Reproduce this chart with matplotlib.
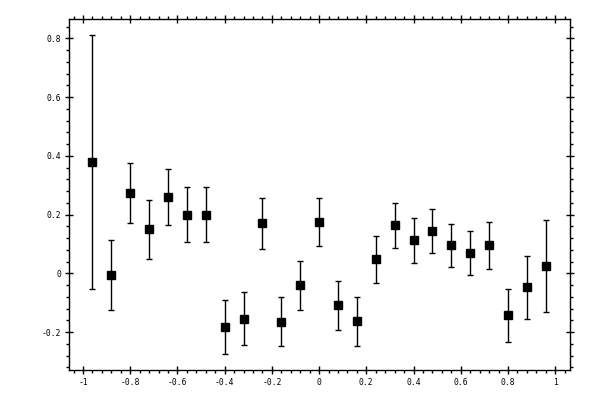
import numpy as np
import matplotlib
matplotlib.use("Agg")
import matplotlib.pyplot as plt
from matplotlib.ticker import MultipleLocator, FuncFormatter

plt.rcParams['axes.unicode_minus'] = False
plt.rcParams['font.family'] = 'DejaVu Sans Mono'

x = [-0.96, -0.88, -0.80, -0.72, -0.64, -0.56, -0.48, -0.40, -0.32, -0.24,
     -0.16, -0.08, 0.00, 0.08, 0.16, 0.24, 0.32, 0.40, 0.48, 0.56,
     0.64, 0.72, 0.80, 0.88, 0.96]
y = [0.378, -0.006, 0.272, 0.150, 0.259, 0.200, 0.200, -0.183, -0.155, 0.170,
     -0.165, -0.041, 0.174, -0.109, -0.163, 0.048, 0.163, 0.112, 0.143, 0.095,
     0.068, 0.095, -0.143, -0.048, 0.024]
yerr = [0.432, 0.119, 0.102, 0.101, 0.095, 0.095, 0.094, 0.091, 0.090, 0.086,
        0.084, 0.083, 0.081, 0.083, 0.083, 0.080, 0.077, 0.077, 0.075, 0.073,
        0.075, 0.080, 0.089, 0.108, 0.156]

fig = plt.figure(figsize=(6, 4), dpi=100)
ax = fig.add_axes([0.1155, 0.075, 0.835, 0.877])

ax.errorbar(x, y, yerr=yerr, fmt='s', color='black', ms=5.2,
            elinewidth=1.0, capsize=2.5, capthick=1.0)

ax.set_xlim(-1.058, 1.064)
ax.set_ylim(-0.329, 0.865)

ax.xaxis.set_major_locator(MultipleLocator(0.2))
ax.xaxis.set_minor_locator(MultipleLocator(0.04))
ax.yaxis.set_major_locator(MultipleLocator(0.2))
ax.yaxis.set_minor_locator(MultipleLocator(0.04))
fmt = FuncFormatter(lambda v, p: '%g' % round(v, 6))
ax.xaxis.set_major_formatter(fmt)
ax.yaxis.set_major_formatter(fmt)

for s in ax.spines.values():
    s.set_linewidth(1.0)
ax.tick_params(which='major', direction='inout', length=6, width=1.0,
               top=True, right=True, labelsize=5.8, pad=3)
ax.tick_params(which='minor', direction='out', length=2.2, width=1.0,
               top=True, right=True)

plt.savefig("out.png", dpi=100)
